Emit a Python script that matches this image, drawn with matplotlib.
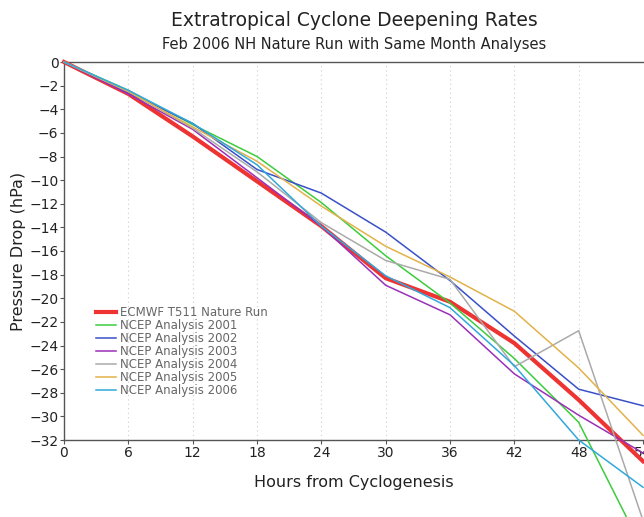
import matplotlib.pyplot as plt
import numpy as np

# forecast hours
hours = [0, 6, 12, 18, 24, 30, 36, 42, 48, 54]

# pressure drop (hPa)
ecmwf = [0, -2.7, -6.3, -10.1, -13.9, -18.3, -20.3, -23.8, -28.6, -33.8]
ncep_2001 = [0, -2.4, -5.3, -8.0, -11.9, -16.4, -20.4, -25.1, -30.5, -41.3]
ncep_2002 = [0, -2.6, -5.2, -9.1, -11.1, -14.4, -18.5, -23.2, -27.7, -29.1]
ncep_2003 = [0, -2.7, -5.7, -9.8, -13.9, -18.9, -21.4, -26.4, -29.9, -33.1]
ncep_2004 = [0, -2.5, -5.6, -9.3, -13.6, -16.8, -18.4, -25.8, -22.75, -38.8]
ncep_2005 = [0, -2.5, -5.5, -8.4, -12.2, -15.6, -18.2, -21.1, -25.9, -31.6]
ncep_2006 = [0, -2.4, -5.2, -8.7, -13.9, -18.1, -20.8, -25.7, -32.0, -36.0]

labels = ['ECMWF T511 Nature Run', 'NCEP Analysis 2001', 'NCEP Analysis 2002',
          'NCEP Analysis 2003', 'NCEP Analysis 2004', 'NCEP Analysis 2005',
          'NCEP Analysis 2006']
series = [ecmwf, ncep_2001, ncep_2002, ncep_2003, ncep_2004, ncep_2005, ncep_2006]
colors = ['#ee3333', '#3ccc3c', '#3a50c8', '#9a30b8', '#aaaaaa', '#e2b24a', '#30a8dc']
widths = [3.0, 1.1, 1.1, 1.1, 1.1, 1.1, 1.1]

fig = plt.figure(figsize=(6.44, 5.17), dpi=100)
ax = fig.add_axes([64/644, 77/517, 579/644, 378/517])

for y, c, lw, lab in zip(series, colors, widths, labels):
    ax.plot(hours, y, color=c, lw=lw, label=lab, clip_on=False, zorder=3)

ax.set_xlim(0, 54)
ax.set_ylim(-32, 0)
ax.set_xticks(np.arange(0, 55, 6))
ax.set_yticks(np.arange(-32, 1, 2))
ax.xaxis.grid(True, color='#cccccc', linestyle=(0, (1, 3)), lw=0.8)
ax.spines['right'].set_visible(False)
for s in ['left', 'top', 'bottom']:
    ax.spines[s].set_color('#555555')
    ax.spines[s].set_linewidth(1.0)
ax.tick_params(direction='out', length=3, color='#555555', labelsize=10, labelcolor='#222222', pad=1)

ax.set_xlabel('Hours from Cyclogenesis', fontsize=11.5, color='#222222', labelpad=11)
ax.set_ylabel('Pressure Drop (hPa)', fontsize=11.5, color='#222222', labelpad=2)

fig.text(354/644, 1 - 21/517, 'Extratropical Cyclone Deepening Rates', ha='center', va='center',
         fontsize=13.5, color='#222222')
fig.text(354/644, 1 - 44/517, 'Feb 2006 NH Nature Run with Same Month Analyses', ha='center', va='center',
         fontsize=10.5, color='#222222')

leg = ax.legend(loc='upper left', bbox_to_anchor=(27/579, (440 - 301)/378), frameon=False,
                fontsize=8.5, handlelength=1.7, handletextpad=0.35, labelspacing=0.0,
                borderaxespad=0)
for t in leg.get_texts():
    t.set_color('#666666')

fig.savefig('out.png', dpi=100)
